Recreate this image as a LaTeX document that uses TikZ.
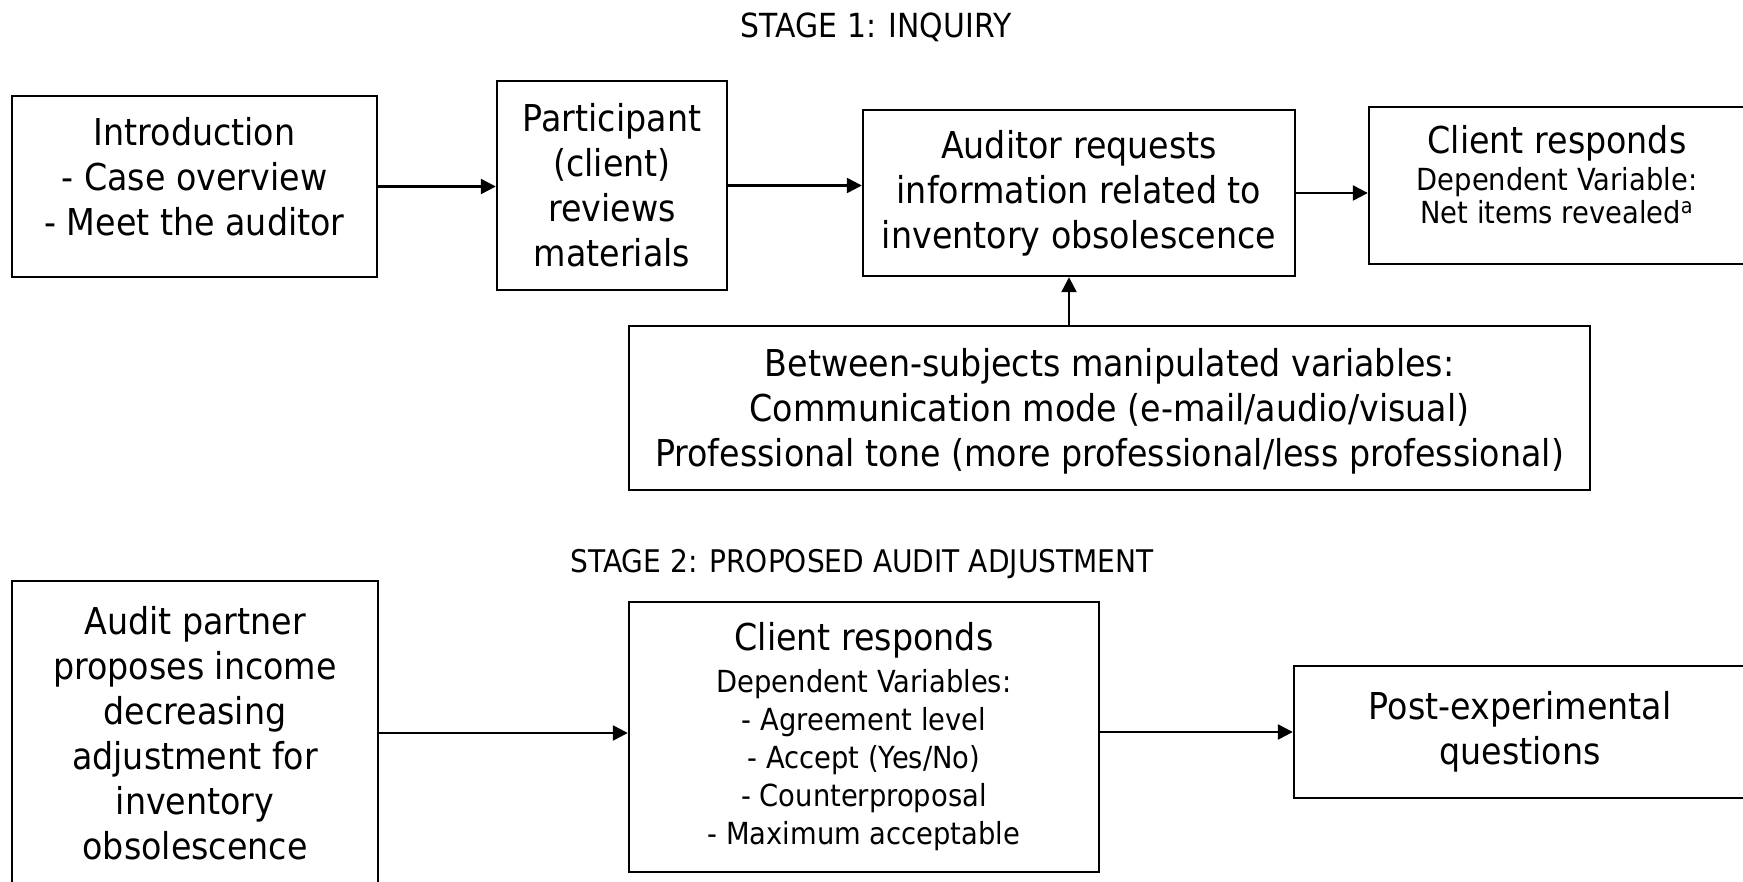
\documentclass[tikz,border=0pt]{standalone}
\usepackage{fontspec}
\setmainfont{DejaVu Sans}[FakeStretch=0.9]
\usetikzlibrary{arrows.meta}
\newcommand\bigf{\fontsize{18.5}{22.5}\selectfont}
\newcommand\smallf{\fontsize{15.2}{16.5}\selectfont}
\newcommand\smallg{\fontsize{15.2}{19}\selectfont}
\begin{document}
\begin{tikzpicture}[x=0.5pt,y=-0.5pt,line width=1.2pt,
  box/.style={draw=black,rectangle,inner sep=0pt,align=center,font=\bigf},
  arr/.style={-{Triangle[length=7.5pt,width=7.5pt]},line width=1.2pt}]
\useasboundingbox (0,0) rectangle (1743,882);
\clip (0,0) rectangle (1743,882);
\node[font=\fontsize{16.6}{19}\selectfont] (t1) at (876,27) {STAGE 1: INQUIRY};
\node[font=\fontsize{15.6}{19}\selectfont] (t2) at (862,564) {STAGE 2: PROPOSED AUDIT ADJUSTMENT};
\node[box,text depth=10pt,minimum width=182.5pt,minimum height=90.5pt] (intro) at (194.5,186.5)
  {Introduction\\- Case overview\\- Meet the auditor};
\node[box,minimum width=115pt,minimum height=104.5pt] (part) at (612,185.5)
  {Participant\\(client)\\reviews\\materials};
\node[box,minimum width=216pt,minimum height=83pt] (aud) at (1079,193)
  {Auditor requests\\information related to\\inventory obsolescence};
\node[box,font=\smallf,text depth=11pt,minimum width=188pt,minimum height=78.5pt] (cli1) at (1557,185.5)
  {{\bigf Client responds}\\[2pt]Dependent Variable:\\Net items revealed\textsuperscript{a}};
\node[box,text height=62.4pt,minimum width=480.5pt,minimum height=82pt] (betw) at (1109.5,408)
  {Between-subjects manipulated variables:\\Communication mode (e-mail/audio/visual)\\Professional tone (more professional/less professional)};
\node[box,minimum width=183pt,minimum height=152pt] (part2) at (195,733)
  {Audit partner\\proposes income\\decreasing\\adjustment for\\inventory\\obsolescence};
\node[box,font=\smallg,minimum width=235pt,minimum height=135pt] (cli2) at (864,737)
  {{\bigf Client responds}\\[2pt]Dependent Variables:\\- Agreement level\\- Accept (Yes/No)\\- Counterproposal\\- Maximum acceptable};
\node[box,minimum width=226pt,minimum height=66pt] (post) at (1520,732)
  {Post-experimental\\questions};
\draw[arr] (intro.east) -- (part.west |- intro.east);
\draw[arr] (part.east) -- (aud.west |- part.east);
\draw[arr] (aud.east) -- (cli1.west |- aud.east);
\draw[arr] ([xshift=-5pt]aud.south |- betw.north) -- ([xshift=-5pt]aud.south);
\draw[arr] (part2.east) -- (cli2.west |- part2.east);
\draw[arr] (cli2.east |- post.west) -- (post.west);
\end{tikzpicture}
\end{document}
